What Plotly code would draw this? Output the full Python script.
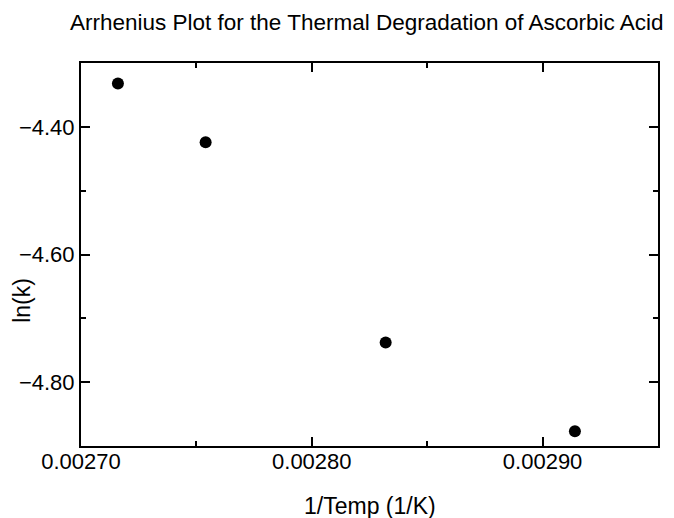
import plotly.graph_objects as go

inv_temp = [0.002716, 0.002754, 0.002832, 0.002914]
ln_k = [-4.332, -4.424, -4.738, -4.877]

x_ticks = [0.00270, 0.00280, 0.00290]
y_ticks = [-4.80, -4.60, -4.40]

title_text = "Arrhenius Plot for the Thermal Degradation of Ascorbic Acid"
x_title = "1/Temp (1/K)"
y_title = "ln(k)"

FONT = "Liberation Sans, Arial, Helvetica, sans-serif"

fig = go.Figure(
    go.Scatter(
        x=inv_temp, y=ln_k, mode="markers",
        marker=dict(color="black", size=12, line=dict(width=0)),
        showlegend=False,
    )
)

axis_common = dict(
    showgrid=False, zeroline=False,
    showline=True, linecolor="black", linewidth=2,
    mirror="ticks", ticks="inside", ticklen=9, tickwidth=2, tickcolor="black",
    tickfont=dict(family=FONT, size=22, color="black"),
)

fig.update_xaxes(
    range=[0.00270, 0.00295],
    tickvals=x_ticks, tickformat=".5f",
    ticklabelstandoff=-5,
    minor=dict(ticks="inside", ticklen=5, tickwidth=2, tickcolor="black", dtick=0.00005, showgrid=False),
    **axis_common,
)
fig.update_yaxes(
    range=[-4.90, -4.30],
    tickvals=y_ticks, tickformat=".2f",
    minor=dict(ticks="inside", ticklen=5, tickwidth=2, tickcolor="black", dtick=0.1, tick0=-4.9, showgrid=False),
    **axis_common,
)

fig.update_layout(
    width=674, height=518,
    margin=dict(l=73, r=24, t=55, b=80),
    plot_bgcolor="white", paper_bgcolor="white",
    font=dict(family=FONT, color="black"),
    annotations=[
        dict(text=title_text, xref="paper", yref="paper", x=0.4965, y=1, yshift=41,
             showarrow=False, font=dict(size=22.5), xanchor="center", yanchor="middle"),
        dict(text=x_title, xref="paper", yref="paper", x=0.5, y=0, yshift=-60,
             showarrow=False, font=dict(size=23), xanchor="center", yanchor="middle"),
        dict(text=y_title, xref="paper", yref="paper", x=0, xshift=-59, y=0.379,
             showarrow=False, font=dict(size=23), textangle=-90, xanchor="center", yanchor="middle"),
    ],
)

fig.write_html("out.html")
